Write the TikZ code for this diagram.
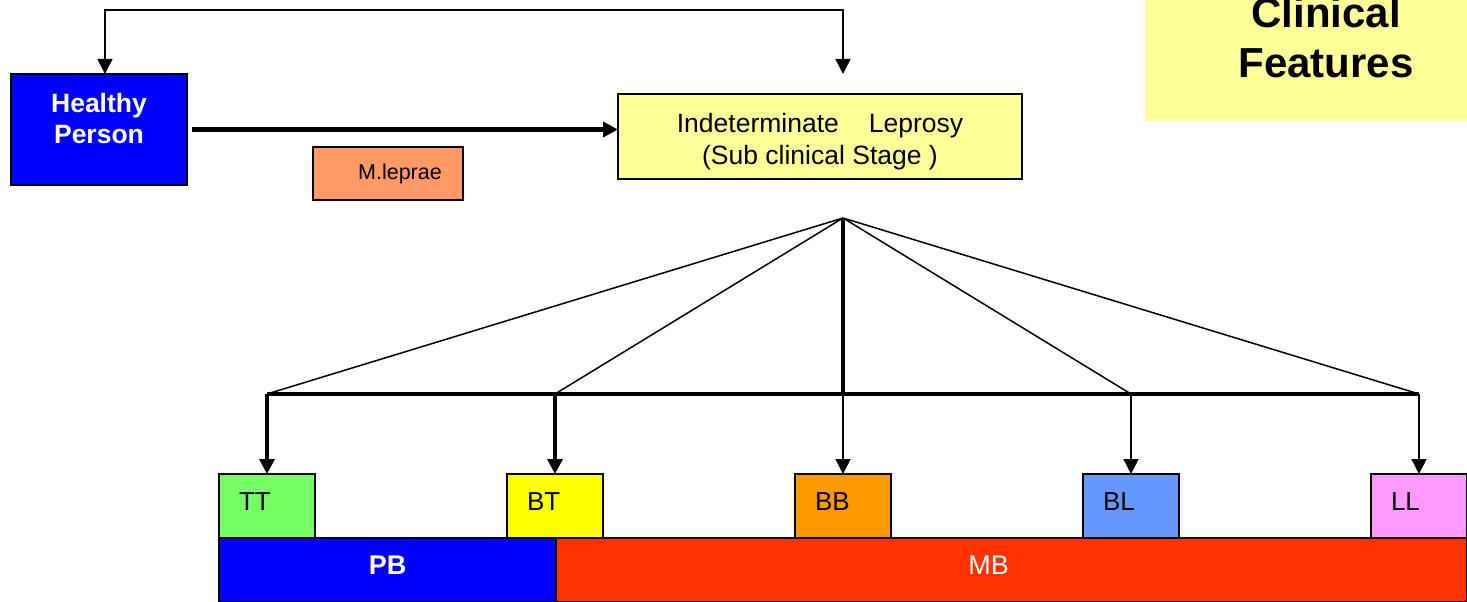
\documentclass[tikz,border=0pt]{standalone}
\usepackage{fontspec}
\setmainfont{Liberation Sans}
\usetikzlibrary{arrows.meta}
\definecolor{pblue}{RGB}{0,0,255}
\definecolor{mbred}{RGB}{255,51,0}
\definecolor{lepsalmon}{RGB}{255,153,102}
\definecolor{paleyellow}{RGB}{255,255,153}
\definecolor{ttgreen}{RGB}{119,255,102}
\definecolor{btyellow}{RGB}{255,255,0}
\definecolor{bborange}{RGB}{255,153,0}
\definecolor{blblue}{RGB}{102,153,255}
\definecolor{llpink}{RGB}{255,153,255}
\tikzset{
  box/.style={draw, line width=1.5pt, inner sep=0pt, outer sep=0pt},
  stage/.style={box, minimum width=96pt, minimum height=64pt, text width=56pt,
    align=left, text depth=8pt, font=\fontsize{26}{30}\selectfont},
  spectrum/.style={box, minimum height=64pt, text depth=9pt, text=white,
    font=\fontsize{27}{30}\selectfont},
  tip/.style={-{Triangle[length=15pt,width=15pt]}},
  tips/.style={{Triangle[length=15pt,width=15pt]}-{Triangle[length=15pt,width=15pt]}}
}
\begin{document}
\begin{tikzpicture}[x=1pt, y=-1pt, line width=1.5pt]
\useasboundingbox (0,0) rectangle (1467,602);
%
\node[box, fill=paleyellow, draw=none, minimum width=362pt, minimum height=167pt,
  align=center, font=\fontsize{42}{50}\selectfont\bfseries] (clinical) at (1326,37.5)
  {Clinical\\Features};
\useasboundingbox (0,0) rectangle (1467,602);
%
\node[box, fill=pblue, minimum width=176pt, minimum height=111pt, text=white,
  align=center, font=\fontsize{26.5}{31}\selectfont\bfseries] (healthy) at (99,129.5)
  {Healthy\\Person\\[-9pt]\mbox{}};
\node[box, fill=lepsalmon, minimum width=150pt, minimum height=53pt,
  font=\fontsize{21.5}{24}\selectfont] (leprae) at (388,173.5) {\hspace*{24pt}M.leprae};
\node[box, fill=paleyellow, minimum width=404pt, minimum height=85pt, align=center,
  font=\fontsize{26.5}{32}\selectfont] (indet) at (820,136.5)
  {\mbox{}\\[-3pt]Indeterminate\hspace{30pt}Leprosy\\(Sub clinical Stage )};
%
\node[stage, fill=ttgreen] (tt) at (267,506) {TT};
\node[stage, fill=btyellow] (bt) at (555,506) {BT};
\node[stage, fill=bborange] (bb) at (843,506) {BB};
\node[stage, fill=blblue] (bl) at (1131,506) {BL};
\node[stage, fill=llpink] (ll) at (1419,506) {LL};
%
\node[spectrum, fill=pblue, minimum width=337pt, font=\fontsize{27}{30}\selectfont\bfseries]
  (pb) at (387.5,570) {PB};
\node[spectrum, fill=mbred, minimum width=911pt] (mb) at (1011.5,570) {\hspace*{-46pt}MB};
%
\coordinate (loop) at (843,10);
\coordinate (loopend) at (843,74);
\coordinate (apex) at (843,218);
\coordinate (bar) at (843,394);
\foreach \s in {tt,bt,bb,bl,ll} \coordinate (j\s) at (\s.north |- bar);
%
\draw[tips] ([xshift=6pt]healthy.north) |- (loop) -- (loopend);
\draw[tip, line width=5pt] ([xshift=5pt]healthy.east) -- (indet.west |- healthy.east);
%
\draw \foreach \s in {tt,bt,bl,ll} {(apex) -- (j\s)};
\draw[line width=3.5pt] (apex) -- (jbb) (jtt) -- (jll);
\draw[tip, line width=3.5pt] (jtt) -- (tt.north);
\draw[tip, line width=3.5pt] (jbt) -- (bt.north);
\draw[tip] (jbb) -- (bb.north);
\draw[tip] (jbl) -- (bl.north);
\draw[tip] (jll) -- (ll.north);
%
\end{tikzpicture}
\end{document}
